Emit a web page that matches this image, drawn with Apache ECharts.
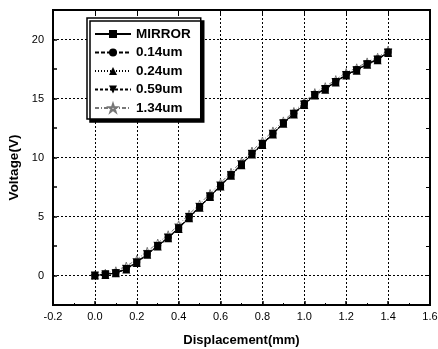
<!DOCTYPE html>
<html><head><meta charset="utf-8">
<script src="https://cdn.jsdelivr.net/npm/echarts@6/dist/echarts.min.js"></script>
<style>html,body{margin:0;padding:0;background:#fff}#c{width:438px;height:349px}</style>
</head><body><div id="c"></div>
<script>
const displacement = [0,0.05,0.1,0.15,0.2,0.25,0.3,0.35,0.4,0.45,0.5,0.55,0.6,0.65,0.7,0.75,0.8,0.85,0.9,0.95,1.0,1.05,1.1,1.15,1.2,1.25,1.3,1.35,1.4];
const mirror  = [0,0.1,0.2,0.55,1.1,1.8,2.5,3.2,4.0,4.9,5.8,6.7,7.6,8.5,9.4,10.3,11.1,12.0,12.9,13.7,14.5,15.3,15.8,16.4,17.0,17.4,17.9,18.3,18.9];
const um014   = [0,0.1,0.25,0.6,1.15,1.85,2.55,3.25,4.05,5.0,5.85,6.75,7.65,8.55,9.45,10.35,11.2,12.05,12.95,13.75,14.6,15.35,15.85,16.45,17.05,17.45,17.95,18.35,18.95];
const um024   = [0,0.05,0.2,0.5,1.05,1.75,2.45,3.15,3.95,4.85,5.75,6.65,7.55,8.45,9.35,10.25,11.05,11.95,12.85,13.65,14.45,15.25,15.75,16.35,16.95,17.35,17.85,18.25,18.85];
const um059   = [0,0.1,0.2,0.55,1.1,1.8,2.5,3.2,4.0,4.95,5.8,6.7,7.6,8.5,9.4,10.3,11.15,12.0,12.9,13.7,14.5,15.3,15.8,16.4,17.0,17.4,17.9,18.3,18.9];
const um134   = [0,0.2,0.4,0.8,1.35,2.05,2.75,3.45,4.3,5.2,6.05,6.95,7.85,8.75,9.65,10.55,11.4,12.25,13.1,13.9,14.7,15.5,16.0,16.6,17.2,17.6,18.1,18.5,19.1];
const seriesNames = ['MIRROR','0.14um','0.24um','0.59um','1.34um'];
const xTicks = [-0.2,0.0,0.2,0.4,0.6,0.8,1.0,1.2,1.4,1.6];
const yTicks = [0,5,10,15,20];

const star = 'path://M12,0 L15,9 L24,9 L17,14 L20,23 L12,17 L4,23 L7,14 L0,9 L9,9 Z';
const styles = [
  {symbol:'rect', color:'#000', fill:'#000', type:'solid', size:7},
  {symbol:'circle', color:'#000', fill:'#000', type:[4,2], size:7},
  {symbol:'triangle', color:'#000', fill:'#000', type:[1,2], size:8},
  {symbol:'path://M0,0 L10,0 L5,9 Z', color:'#000', fill:'#000', type:[3,2], size:8},
  {symbol:star, color:'#777', fill:'#fff', type:[4,2,1,2], size:8}
];
const datasets = [mirror, um014, um024, um059, um134];

const chart = echarts.init(document.getElementById('c'), null, {renderer:'canvas'});
const font = 'Liberation Sans, Arial, sans-serif';

const series = datasets.map((d,i)=>({
  name: seriesNames[i],
  type:'line',
  data: displacement.map((x,j)=>[x,d[j]]),
  symbol: styles[i].symbol,
  symbolSize: styles[i].size,
  showAllSymbol: true,
  lineStyle:{color:styles[i].color, width:1, type:styles[i].type},
  itemStyle:{color:styles[i].fill, borderColor:styles[i].color, borderWidth: i===4?1:0},
  z: 5-i
}));

chart.setOption({
  animation:false,
  backgroundColor:'#fff',
  textStyle:{fontFamily:font},
  grid:{left:53, right:8, top:10, bottom:44, outerBoundsMode:'none', containLabel:false,
        show:true, borderColor:'#000', borderWidth:2, backgroundColor:'transparent'},
  legend:{
    orient:'vertical', left:87, top:18,
    data: seriesNames,
    itemWidth:36, itemHeight:10, itemGap:4.5,
    padding:[9,10,4,7],
    backgroundColor:'#fff', borderColor:'#000', borderWidth:1.5,
    shadowColor:'#000', shadowOffsetX:3, shadowOffsetY:3, shadowBlur:0,
    textStyle:{fontFamily:font, fontWeight:'bold', fontSize:13.5, color:'#000'}
  },
  xAxis:[{
    type:'value', min:-0.2, max:1.6, interval:0.2,
    name:'Displacement(mm)', nameLocation:'middle', nameGap:29,
    nameTextStyle:{fontFamily:font, fontWeight:'bold', fontSize:13, color:'#000'},
    axisLine:{show:true, onZero:false, lineStyle:{color:'#000', width:2}},
    axisTick:{show:true, inside:true, length:4, lineStyle:{color:'#000', width:1.5}},
    minorTick:{show:true, splitNumber:2, length:2, lineStyle:{color:'#000'}},
    axisLabel:{color:'#000', fontSize:11, margin:6, formatter:v=>{
      const t = xTicks.find(k=>Math.abs(k-v)<1e-6); return t===undefined?'':t.toFixed(1);}},
    splitLine:{show:true, lineStyle:{color:'#000', type:[2,2], width:1}}
  },{
    type:'value', position:'top', min:-0.2, max:1.6, interval:0.2,
    axisLine:{show:true, onZero:false, lineStyle:{color:'#000', width:2}},
    axisTick:{show:true, inside:true, length:4, lineStyle:{color:'#000'}},
    axisLabel:{show:false}, splitLine:{show:false}
  }],
  yAxis:[{
    type:'value', min:-2.5, max:22.5, interval:2.5,
    name:'Voltage(V)', nameLocation:'middle', nameGap:28,
    nameTextStyle:{fontFamily:font, fontWeight:'bold', fontSize:13.5, color:'#000', padding:[0,20,0,0]},
    axisLine:{show:true, onZero:false, lineStyle:{color:'#000', width:2}},
    axisTick:{show:true, inside:true, length:4, lineStyle:{color:'#000', width:1.5}},
    axisLabel:{color:'#000', fontSize:11, margin:9, formatter:v=>{
      const t = yTicks.find(k=>Math.abs(k-v)<1e-6); return t===undefined?'':String(t);}},
    splitLine:{show:true, lineStyle:{color:['rgba(0,0,0,0)','#000'], type:[2,2], width:1}}
  },{
    type:'value', position:'right', min:-2.5, max:22.5, interval:2.5,
    axisLine:{show:true, onZero:false, lineStyle:{color:'#000', width:2}},
    axisTick:{show:true, inside:true, length:4, lineStyle:{color:'#000'}},
    axisLabel:{show:false}, splitLine:{show:false}
  }],
  series: series
});
</script></body></html>
